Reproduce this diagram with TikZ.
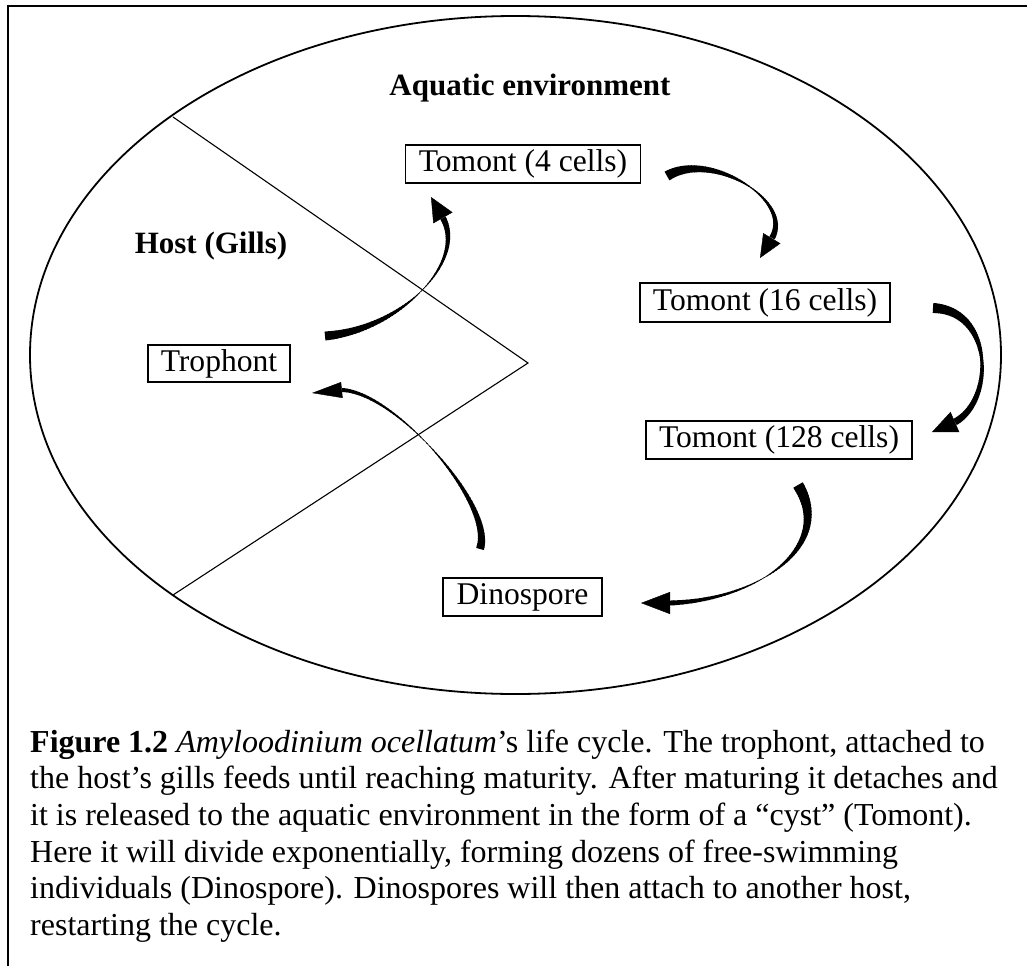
\documentclass[tikz,border=0pt]{standalone}
\usepackage{fontspec}
\setmainfont{Liberation Serif}
\usetikzlibrary{arrows.meta}
\tikzset{
  box/.style={draw, line width=1.2pt, inner sep=0pt, font=\fontsize{31.6}{36}\selectfont},
  lbl/.style={inner sep=0pt, font=\fontsize{31}{36}\selectfont\bfseries},
  capline/.style={anchor=base west, inner sep=0pt, font=\fontsize{32}{36.7}\selectfont},
  headtip/.style={line width=0.4pt, -{Triangle[length=#1]}},
}
\newcommand\taperarc[8]{%
  \foreach \kk in {0,...,59}{%
    \pgfmathsetmacro\myTA{\kk/60}%
    \pgfmathsetmacro\myTB{min(1,(\kk+1.3)/60)}%
    \pgfmathsetmacro\myTM{(\kk+0.5)/60}%
    \pgfmathsetmacro\myW{\myTM<#8 ? #5+(#6-#5)*\myTM/#8 : #6+(#7-#6)*(\myTM-#8)/(1-#8)}%
    \path (#1) .. controls (#2) and (#3) .. (#4) coordinate[pos=\myTA] (qa) coordinate[pos=\myTB] (qb);
    \draw[line width=\myW pt] (qa) -- (qb);
  }%
}
\begin{document}
\begin{tikzpicture}[x=1pt,y=-1pt]
\useasboundingbox (0,0) rectangle (1027,966);
% frame
\draw[line width=2pt] (8,966) -- (8,6) -- (1027,6);
% ellipse
\draw[line width=1.8pt] (515.5,355) ellipse [x radius=485.5, y radius=339];
% wedge
\coordinate (wtop) at (173,117);
\coordinate (wv) at (528,363);
\coordinate (wbot) at (173,595);
\draw[line width=1.1pt] (wtop) -- (wv) -- (wbot);
% labels
\node[lbl, anchor=base] (aq) at (530,95) {Aquatic environment};
\node[lbl] (host) at (211,246) {Host (Gills)};
% boxes
\node[box, minimum width=235pt, minimum height=38pt] (t4) at (523,164) {Tomont (4 cells)};
\node[box, minimum width=250pt, minimum height=39pt] (t16) at (765,302.5) {Tomont (16 cells)};
\node[box, minimum width=266pt, minimum height=38pt] (t128) at (779,440) {Tomont (128 cells)};
\node[box, minimum width=142pt, minimum height=37pt] (troph) at (219,363.5) {Trophont};
\node[box, minimum width=159pt, minimum height=38pt] (dino) at (522.5,597) {Dinospore};
% arrow 1: Trophont -> Tomont (4 cells)
\coordinate (a1s) at (325,336); \coordinate (a1c) at (400,330); \coordinate (a1d) at (467,262);
\coordinate (a1b) at (443,218); \coordinate (a1t) at (431,197);
\taperarc{a1s}{a1c}{a1d}{a1b}{9}{0.4}{6}{0.5}
\draw[headtip={24pt 0 0,width=22pt 0 0}] (a1b) -- (a1t);
% arrow 2: Tomont 4 -> Tomont 16
\coordinate (a2s) at (667,176); \coordinate (a2c) at (710,150); \coordinate (a2d) at (794,200);
\coordinate (a2b) at (772,238); \coordinate (a2t) at (760,258);
\taperarc{a2s}{a2c}{a2d}{a2b}{10}{1}{6}{0.55}
\draw[headtip={23pt 0 0,width=20pt 0 0}] (a2b) -- (a2t);
% arrow 3: Tomont 16 -> Tomont 128
\coordinate (a3s) at (933,308); \coordinate (a3c) at (993,310); \coordinate (a3d) at (995,400);
\coordinate (a3b) at (955,422); \coordinate (a3t) at (932,432);
\taperarc{a3s}{a3c}{a3d}{a3b}{10}{3}{7}{0.5}
\draw[headtip={25pt 0 0,width=22pt 0 0}] (a3b) -- (a3t);
% arrow 4: Tomont 128 -> Dinospore
\coordinate (a4s) at (798,485); \coordinate (a4c) at (835,545); \coordinate (a4d) at (760,600);
\coordinate (a4b) at (670,603); \coordinate (a4t) at (641,603);
\taperarc{a4s}{a4c}{a4d}{a4b}{11}{0.5}{5}{0.6}
\draw[headtip={29pt 0 0,width=22pt 0 0}] (a4b) -- (a4t);
% arrow 5: Dinospore -> Trophont
\coordinate (a5s) at (480,549); \coordinate (a5c) at (495,505); \coordinate (a5d) at (395,392);
\coordinate (a5b) at (342,390); \coordinate (a5t) at (312,393);
\taperarc{a5s}{a5c}{a5d}{a5b}{8}{0.5}{4}{0.55}
\draw[headtip={30pt 0 0,width=16pt 0 0}] (a5b) -- (a5t);
% caption
\node[capline] (c1) at (30,752) {\textbf{Figure 1.2} \textit{Amyloodinium ocellatum}’s life cycle. The trophont, attached to};
\node[capline] (c2) at (30,788.7) {the host’s gills feeds until reaching maturity. After maturing it detaches and};
\node[capline] (c3) at (30,825.4) {it is released to the aquatic environment in the form of a “cyst” (Tomont).};
\node[capline] (c4) at (30,862.1) {Here it will divide exponentially, forming dozens of free-swimming};
\node[capline] (c5) at (30,898.8) {individuals (Dinospore). Dinospores will then attach to another host,};
\node[capline] (c6) at (30,935.5) {restarting the cycle.};
\end{tikzpicture}
\end{document}
